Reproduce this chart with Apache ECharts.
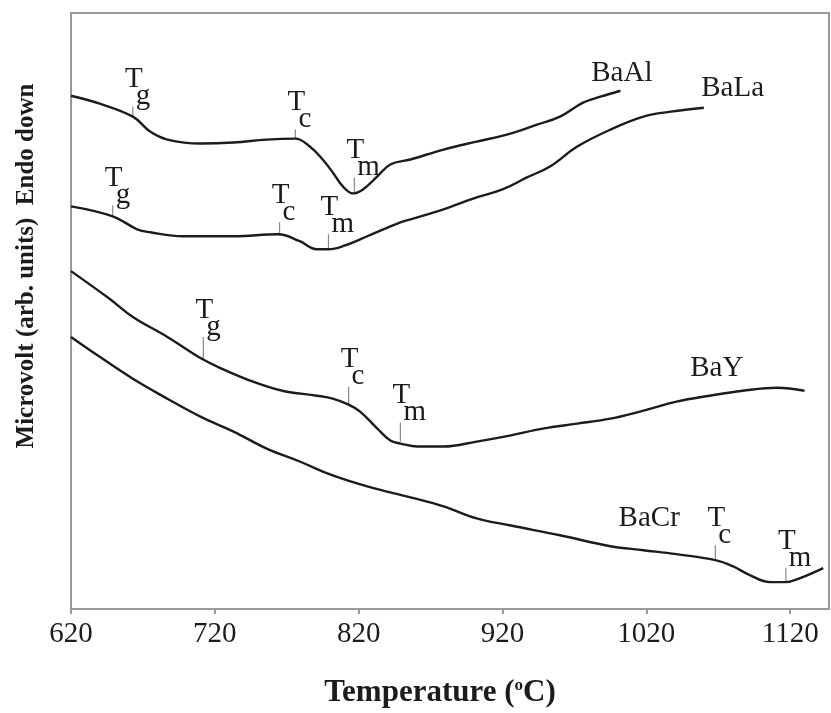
<!DOCTYPE html>
<html>
<head>
<meta charset="utf-8">
<script src="https://cdn.jsdelivr.net/npm/echarts@6/dist/echarts.min.js"></script>
<style>
  html, body { margin: 0; padding: 0; background: #fff; }
  #chart { width: 831px; height: 713px; }
</style>
</head>
<body>
<div id="chart"></div>
<script>
// DTA traces: [temperature °C, signal in arb. units] (endo down)
const baAl = [[620, 515], [640, 507], [663, 494], [675, 479], [687, 471], [710, 467], [733, 468], [756, 471],
  [776, 472], [786, 464], [795, 451], [802, 438], [809, 424], [816, 417], [823, 421], [833, 434], [842, 446],
  [856, 451], [879, 461], [902, 469], [923, 476], [944, 486], [960, 494], [976, 508], [988, 514], [1002, 520]];
const baLa = [[620, 404], [649, 394], [666, 381], [675, 378], [698, 374], [733, 374], [764, 376], [779, 369],
  [791, 361], [799, 361], [809, 364], [826, 374], [849, 388], [856, 391], [879, 401], [902, 413], [920, 421],
  [937, 433], [953, 444], [972, 464], [995, 481], [1018, 494], [1037, 499], [1060, 503]];
const baY = [[620, 339], [647, 311], [663, 293], [687, 273], [711, 251], [722, 243], [745, 229], [767, 219],
  [791, 214], [802, 211], [813, 205], [821, 198], [833, 181], [842, 169], [849, 166], [861, 163], [879, 163],
  [902, 168], [925, 174], [948, 181], [972, 186], [995, 191], [1018, 199], [1041, 208], [1064, 214],
  [1087, 219], [1111, 222], [1130, 219]];
const baCr = [[620, 273], [640, 253], [663, 231], [687, 211], [710, 193], [733, 178], [756, 161], [779, 148],
  [802, 134], [826, 123], [856, 112], [879, 103], [902, 91], [925, 84], [960, 74], [995, 63], [1018, 59],
  [1041, 55], [1068, 49], [1080, 43], [1092, 34], [1106, 27], [1117, 27], [1127, 31], [1143, 41]];

// Tg / Tc / Tm markers
const markerTemps = [663, 776, 817, 649, 765, 799, 712, 813, 849, 1068, 1117];
const markerBase = [494, 472, 418, 393, 376, 361, 251, 205, 168, 49, 27];
const markerTop = [504, 481, 433, 405, 388, 376, 273, 223, 187, 64, 41];
const markerSub = ['g', 'c', 'm', 'g', 'c', 'm', 'g', 'c', 'm', 'c', 'm'];

// curve names and where they sit
const curveNames = ['BaAl', 'BaLa', 'BaY', 'BaCr'];
const nameTemps = [1003, 1080, 1069, 1022];
const nameLevels = [537, 522, 241, 91];

const serif = '"Liberation Serif", "DejaVu Serif", serif';
const ink = '#1c1c1c';

const chart = echarts.init(document.getElementById('chart'));

function curve(name, data) {
  return {
    name,
    type: 'line',
    data,
    showSymbol: false,
    smooth: 0.4,
    lineStyle: { color: ink, width: 2.4 },
    silent: true,
  };
}

chart.setOption({
  animation: false,
  backgroundColor: '#fff',
  grid: {
    left: 71, right: 2, top: 13, bottom: 102,
    show: true, borderColor: '#999', borderWidth: 2,
  },
  xAxis: {
    type: 'value',
    min: 620,
    max: 1147,
    interval: 100,
    axisLine: { show: true, lineStyle: { color: '#999', width: 2 } },
    axisTick: { show: true, length: 5, lineStyle: { color: '#999', width: 2 } },
    splitLine: { show: false },
    axisLabel: {
      margin: 11,
      color: ink,
      fontFamily: serif,
      fontSize: 29,
      showMaxLabel: false,
      formatter: (v) => String(v),
    },
    name: 'Temperature ({sup|o}C)',
    nameLocation: 'middle',
    nameGap: 68,
    nameTextStyle: {
      color: ink,
      fontFamily: serif,
      fontWeight: 'bold',
      fontSize: 31,
      padding: [0, 20, 0, 0],
      rich: {
        sup: { fontFamily: serif, fontWeight: 'bold', fontSize: 17, verticalAlign: 'top', color: ink },
      },
    },
  },
  yAxis: {
    type: 'value',
    min: 0,
    max: 598,
    axisLine: { show: false },
    axisTick: { show: false },
    axisLabel: { show: false },
    splitLine: { show: false },
  },
  graphic: [{
    type: 'text',
    x: 27,
    y: 266,
    rotation: Math.PI / 2,
    style: {
      text: 'Microvolt (arb. units)  Endo down',
      font: 'bold 25px ' + serif,
      fill: ink,
      align: 'center',
      verticalAlign: 'middle',
    },
  }],
  series: [
    curve('BaAl', baAl),
    curve('BaLa', baLa),
    curve('BaY', baY),
    curve('BaCr', baCr),
    {
      type: 'custom',
      name: 'markers',
      silent: true,
      data: markerTemps.map((t, i) => [t, markerBase[i], markerTop[i]]),
      renderItem(params, api) {
        const p0 = api.coord([api.value(0), api.value(1)]);
        const p1 = api.coord([api.value(0), api.value(2)]);
        const cx = p1[0] + 1;
        const cy = p1[1] - 27;
        return {
          type: 'group',
          children: [
            {
              type: 'line',
              shape: { x1: p0[0], y1: p0[1], x2: p1[0], y2: p1[1] },
              style: { stroke: '#888', lineWidth: 1.2 },
            },
            {
              type: 'text',
              x: cx,
              y: cy,
              style: { text: 'T', font: '29px ' + serif, fill: ink, align: 'center', verticalAlign: 'middle' },
            },
            {
              type: 'text',
              x: cx + 2,
              y: cy + 17,
              style: { text: markerSub[params.dataIndex], font: '29px ' + serif, fill: ink, align: 'left', verticalAlign: 'middle' },
            },
          ],
        };
      },
    },
    {
      type: 'custom',
      name: 'names',
      silent: true,
      data: nameTemps.map((t, i) => [t, nameLevels[i]]),
      renderItem(params, api) {
        const p = api.coord([api.value(0), api.value(1)]);
        return {
          type: 'text',
          x: p[0],
          y: p[1],
          style: { text: curveNames[params.dataIndex], font: '29px ' + serif, fill: ink, align: 'center', verticalAlign: 'middle' },
        };
      },
    },
  ],
});
</script>
</body>
</html>
